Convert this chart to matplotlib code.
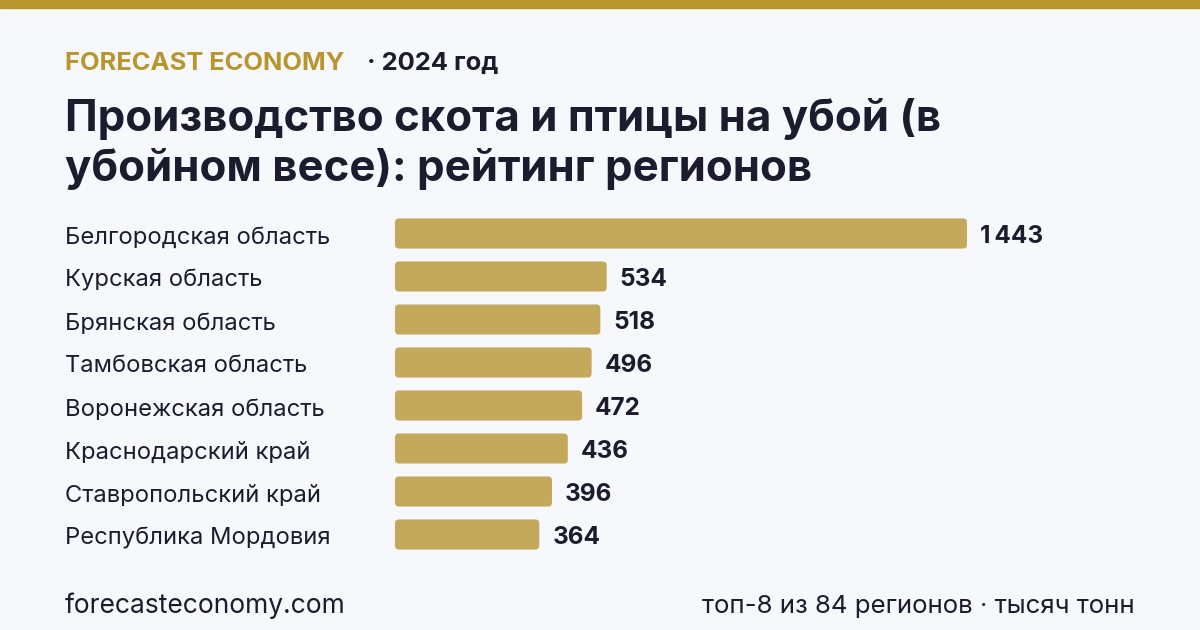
import matplotlib.pyplot as plt
from matplotlib.patches import FancyBboxPatch

regions = ["Белгородская область", "Курская область", "Брянская область",
           "Тамбовская область", "Воронежская область", "Краснодарский край",
           "Ставропольский край", "Республика Мордовия"]
values = [1443, 534, 518, 496, 472, 436, 396, 364]

W, H = 1200, 630
bg = "#f7f8fc"
gold = "#b8962e"
bar_col = "#c4a85c"
dark = "#1c1c2e"

plt.rcParams['font.family'] = ['Inter', 'DejaVu Sans']

fig = plt.figure(figsize=(12, 6.3), dpi=100, facecolor=bg)

# top stripe
fig.patches.append(plt.Rectangle((0, 1 - 8 / H), 1, 8 / H, transform=fig.transFigure,
                                 color=gold, zorder=0))

def fx(px):
    return px / W

def fy(py):
    return 1 - py / H

fig.text(fx(65), fy(63), "FORECAST ECONOMY", color=gold, fontsize=18.4,
         fontweight='bold', va='center', ha='left')
fig.text(fx(367), fy(63), "· 2024 год", color=dark, fontsize=18.4,
         fontweight='bold', va='center', ha='left')
fig.text(fx(65), fy(119), "Производство скота и птицы на убой (в", color=dark,
         fontsize=31.5, fontweight='bold', va='center', ha='left')
fig.text(fx(65), fy(169), "убойном весе): рейтинг регионов", color=dark,
         fontsize=31.5, fontweight='bold', va='center', ha='left')

# bars area
left, right = 395, 967
top, bottom = 212, 556
ax = fig.add_axes([fx(left), fy(bottom), (right - left) / W, (bottom - top) / H])
ax.set_facecolor('none')
n = len(values)
ax.set_xlim(0, max(values))
ax.set_ylim(n - 0.5, -0.5)
ax.axis('off')

bars = ax.barh(range(n), values, height=0.70, color=bar_col)
xpp = max(values) / (right - left)
ypp = n / (bottom - top)
for b in bars:
    x, y, w, h = b.get_x(), b.get_y(), b.get_width(), b.get_height()
    b.set_visible(False)
    p = FancyBboxPatch((x, y), w, h,
                       boxstyle=f"round,pad=0,rounding_size={4 * xpp}",
                       mutation_aspect=ypp / xpp, color=bar_col, linewidth=0)
    ax.add_patch(p)

for i, (name, v) in enumerate(zip(regions, values)):
    ax.annotate(name, xy=(0, i), xycoords='data', xytext=(fx(65), i + 4 * ypp),
                textcoords=('figure fraction', 'data'),
                ha='left', va='center', fontsize=17.1, color=dark)
    label = f"{v:,}".replace(",", "\u202f")
    ax.annotate(label, xy=(v, i), xytext=(13, -3), textcoords='offset pixels',
                ha='left', va='center', fontsize=17.5, fontweight='bold', color=dark)

fig.text(fx(65), fy(606), "forecasteconomy.com", color=dark, fontsize=19,
         va='center', ha='left')
fig.text(fx(1135), fy(606), "топ-8 из 84 регионов · тысяч тонн", color=dark,
         fontsize=18.6, va='center', ha='right')

fig.savefig("out.png", dpi=100, facecolor=bg)
